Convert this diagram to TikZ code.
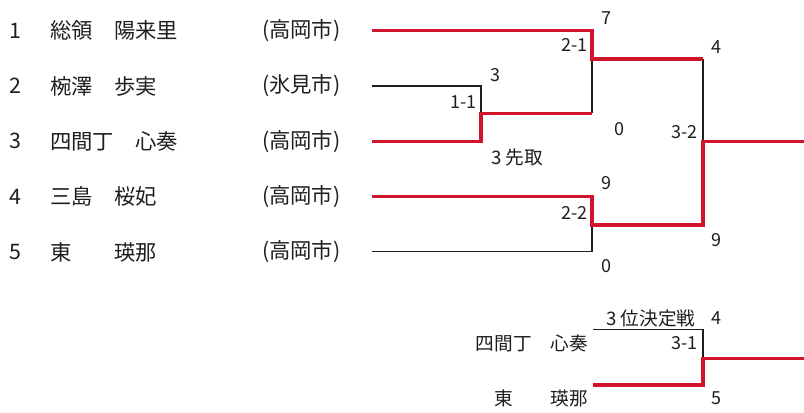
\documentclass[tikz,border=0pt]{standalone}
\usepackage{fontspec}
\setmainfont{Noto Sans CJK JP}
\usepackage{tikz}
\usetikzlibrary{positioning}
\definecolor{winred}{RGB}{208,20,44}
\definecolor{ink}{RGB}{30,30,30}
\tikzstyle{num} = [inner sep=0pt, text=ink, font=\fontsize{16}{18}\selectfont]
\tikzstyle{player} = [inner sep=0pt, text=ink, font=\fontsize{16}{18}\selectfont]
\tikzstyle{city} = [inner sep=0pt, text=ink, font=\fontsize{16}{18}\selectfont]
\tikzstyle{score} = [inner sep=0pt, text=ink, font=\fontsize{13.5}{15}\selectfont]
\tikzstyle{note} = [inner sep=0pt, text=ink, font=\fontsize{14}{16}\selectfont]
\tikzstyle{lose} = [line width=1pt, ink]
\tikzstyle{win} = [line width=2.6pt, winred]

\begin{document}
\begin{tikzpicture}[x=0.75pt, y=-0.75pt, node distance=41.5pt]
        \useasboundingbox (0,0) rectangle (804,412);
        \node (n1) [num] at (15,30.7) {1};
        \node (n2) [num, below of=n1] {2};
        \node (n3) [num, below of=n2] {3};
        \node (n4) [num, below of=n3] {4};
        \node (n5) [num, below of=n4] {5};
        \node (p1) [player, right=21.5pt of n1] {総領　陽来里};
        \node (p2) [player, right=21.5pt of n2] {椀澤　歩実};
        \node (p3) [player, right=21.5pt of n3] {四間丁　心奏};
        \node (p4) [player, right=21.5pt of n4] {三島　桜妃};
        \node (p5) [player, right=21.5pt of n5] {東　　瑛那};
        \node (c1) [city, right=180.5pt of n1] {(高岡市)};
        \node (c2) [city, right=180.5pt of n2] {(氷見市)};
        \node (c3) [city, right=180.5pt of n3] {(高岡市)};
        \node (c4) [city, right=180.5pt of n4] {(高岡市)};
        \node (c5) [city, right=180.5pt of n5] {(高岡市)};

        \coordinate (e1) at (372,30.7);
        \coordinate (e2) at (372,86);
        \coordinate (e3) at (372,141.4);
        \coordinate (e4) at (372,196.7);
        \coordinate (e5) at (372,251.8);
        \coordinate (m1) at (481,113.3);
        \coordinate (m2) at (592,59);
        \coordinate (m3) at (592,225);
        \coordinate (fin) at (703,141.4);
        \coordinate (champ) at (804,141.4);
        \coordinate (t1) at (593,329.3);
        \coordinate (t2) at (593,385);
        \coordinate (tm) at (703,358.3);
        \coordinate (tout) at (804,358.3);

        \draw [lose] (e2) -| (m1);
        \draw [lose] (m1 -| m2) -- (m2);
        \draw [lose] (e5) -| (m3);
        \draw [lose] (m2 -| fin) -- (fin);
        \draw [lose] (t1) -| (tm);
        \draw [win] (e3) -| (m1) -- (m1 -| m2);
        \draw [win] (e1) -| (m2) -- (m2 -| fin);
        \draw [win] (e4) -| (m3) -- (m3 -| fin) -- (fin) -- (champ);
        \draw [win] (t2) -| (tm) -- (tout);

        \node (s7) [score] at (606,18) {7};
        \node (s21) [score, anchor=east] at (588,45) {2-1};
        \node (s3) [score] at (495,75) {3};
        \node (s11) [score, anchor=east] at (477,102) {1-1};
        \node (s4) [score] at (716,47) {4};
        \node (s0a) [score] at (619,129) {0};
        \node (s32) [score, anchor=east] at (698,132) {3-2};
        \node (first) [note] at (517,157) {3 先取};
        \node (s9a) [score] at (606,183) {9};
        \node (s22) [score, anchor=east] at (588,213) {2-2};
        \node (s9b) [score] at (716,240) {9};
        \node (s0b) [score] at (606,266) {0};

        \node (third) [note] at (651,318) {3 位決定戦};
        \node (t4) [score] at (716,318) {4};
        \node (tp1) [note, anchor=east] at (588,343) {四間丁　心奏};
        \node (s31) [score, anchor=east] at (698,343) {3-1};
        \node (tp2) [note, anchor=east] at (588,398) {東　　瑛那};
        \node (t5) [score] at (716,398) {5};
      \end{tikzpicture}
\end{document}
